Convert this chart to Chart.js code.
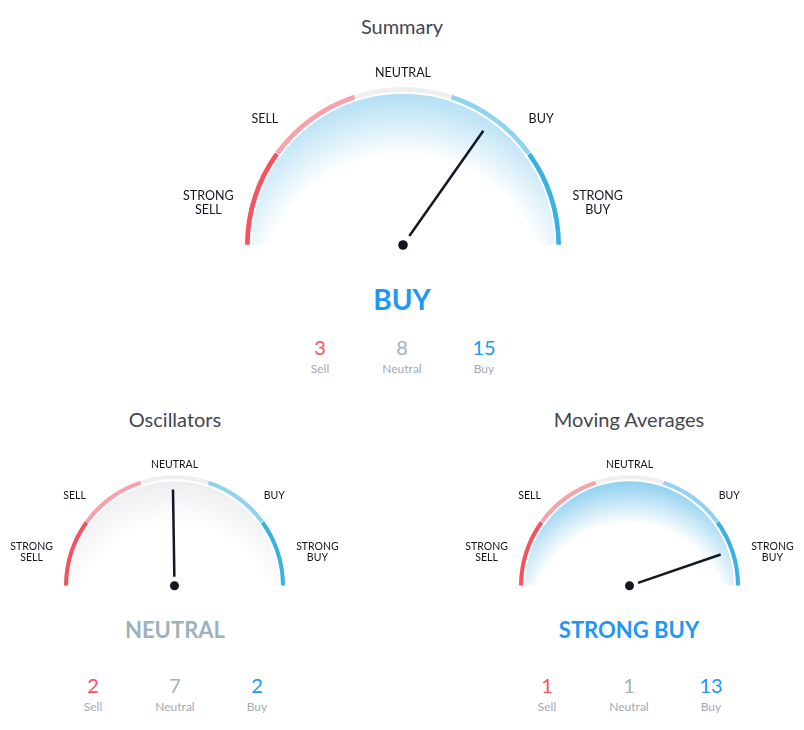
<!DOCTYPE html>
<html>
<head>
<meta charset="utf-8">
<title>Technical Analysis</title>
<script src="https://cdn.jsdelivr.net/npm/chart.js@4.4.1/dist/chart.umd.min.js"></script>
<style>
  html, body { margin: 0; padding: 0; background: #fff; }
  body { width: 804px; height: 730px; position: relative; overflow: hidden; font-family: 'Lato', 'Liberation Sans', sans-serif; }
  .txt { position: absolute; width: 240px; text-align: center; white-space: nowrap; }
  canvas { position: absolute; }
</style>
</head>
<body>
<script>
  // gauge data
  const gaugeTitles = ['Summary', 'Oscillators', 'Moving Averages'];
  const zoneLabels = ['STRONG SELL', 'SELL', 'NEUTRAL', 'BUY', 'STRONG BUY'];
  const zoneWeights = [1, 1, 1, 1, 1];
  const needleValues = [0.39, -0.01, 0.79]; // -1 = strong sell, 1 = strong buy
  const ratings = ['BUY', 'NEUTRAL', 'STRONG BUY'];
  const countLabels = ['Sell', 'Neutral', 'Buy'];
  const sellCounts = [3, 2, 1];
  const neutralCounts = [8, 7, 1];
  const buyCounts = [15, 2, 13];

  const zoneColors = ['#f7525f', '#f9a0ad', '#efeff1', '#8fd3f0', '#3ab1e3'];
  const ratingColors = { 'BUY': '#2196f3', 'STRONG BUY': '#2196f3', 'NEUTRAL': '#9db2bd', 'SELL': '#f7525f', 'STRONG SELL': '#f7525f' };
  const fillColors = { 'BUY': '#b3dff4', 'STRONG BUY': '#8fd0ef', 'NEUTRAL': '#eceef1' };
  const countColors = ['#f7525f', '#9db2bd', '#2196f3'];

  const bigLabelPos = [[-1.24, -0.265], [-0.88, -0.80], [0, -1.097], [0.88, -0.80], [1.24, -0.265]];
  const smallLabelPos = [[-1.305, -0.31], [-0.912, -0.823], [0, -1.107], [0.912, -0.823], [1.305, -0.31]];

  const layouts = [
    { left: 150, top: 55, w: 504, h: 200, pad: { left: 95, right: 93, top: 32, bottom: 9 }, cx: 402,
      titleY: 26, ratingY: 299, ratingSize: 28, countY: 347, countLblY: 369, big: true },
    { left: 0, top: 450, w: 350, h: 145, pad: { left: 64, right: 65, top: 25, bottom: 8 }, cx: 175,
      titleY: 419, ratingY: 630, ratingSize: 22, countY: 685, countLblY: 707, big: false },
    { left: 454, top: 450, w: 350, h: 145, pad: { left: 65, right: 64, top: 25, bottom: 8 }, cx: 629,
      titleY: 419, ratingY: 630, ratingSize: 22, countY: 685, countLblY: 707, big: false }
  ];

  /**
   * Place a centred line of text on the page
   */
  function addText(text, cx, cy, size, color, weight) {
    const el = document.createElement('div');
    el.className = 'txt';
    el.textContent = text;
    el.style.left = (cx - 120) + 'px';
    el.style.top = (cy - size) + 'px';
    el.style.height = (size * 2) + 'px';
    el.style.lineHeight = (size * 2) + 'px';
    el.style.fontSize = size + 'px';
    el.style.color = color;
    el.style.fontWeight = weight || 'normal';
    document.body.appendChild(el);
  }

  // fill, zone labels and needle
  const gaugePlugin = {
    id: 'gauge',
    beforeDatasetsDraw(chart, args, opts) {
      const arc = chart.getDatasetMeta(0).data[0];
      const { x, y, innerRadius } = arc;
      const r = innerRadius - 1;
      const ctx = chart.ctx;
      const g = ctx.createRadialGradient(x, y + r * 0.35, 0, x, y + r * 0.35, r * 1.35);
      g.addColorStop(0, '#ffffff');
      g.addColorStop(0.7, '#ffffff');
      g.addColorStop(1, opts.fill);
      ctx.save();
      ctx.beginPath();
      ctx.moveTo(x - r, y);
      ctx.arc(x, y, r, Math.PI, 2 * Math.PI);
      ctx.closePath();
      ctx.fillStyle = g;
      ctx.fill();
      ctx.restore();
    },
    afterDatasetsDraw(chart, args, opts) {
      const ctx = chart.ctx;
      const arc = chart.getDatasetMeta(0).data[0];
      const { x, y, outerRadius } = arc;
      const R = outerRadius;

      // zone labels
      ctx.save();
      ctx.fillStyle = '#131722';
      ctx.textAlign = 'center';
      ctx.textBaseline = 'middle';
      ctx.font = (opts.big ? 12.5 : 10.5) + "px 'Lato', 'Liberation Sans', sans-serif";
      const lh = opts.big ? 14 : 11;
      zoneLabels.forEach((lbl, i) => {
        const p = opts.labelPos[i];
        const lines = lbl.split(' ');
        const lx = x + p[0] * R;
        const ly = y + p[1] * R;
        lines.forEach((ln, j) => {
          ctx.fillText(ln, lx, ly + (j - (lines.length - 1) / 2) * lh);
        });
      });

      // needle from the hidden value ring
      const needleArc = chart.getDatasetMeta(1).data[0];
      const a = needleArc.endAngle;
      const start = opts.big ? 11 : 9;
      const len = R * (opts.big ? 0.89 : 0.88);
      ctx.strokeStyle = '#131722';
      ctx.lineWidth = 2.5;
      ctx.lineCap = 'butt';
      ctx.beginPath();
      ctx.moveTo(x + Math.cos(a) * start, y + Math.sin(a) * start);
      ctx.lineTo(x + Math.cos(a) * len, y + Math.sin(a) * len);
      ctx.stroke();
      ctx.fillStyle = '#131722';
      ctx.beginPath();
      ctx.arc(x, y, opts.big ? 4.8 : 4.5, 0, 2 * Math.PI);
      ctx.fill();
      ctx.restore();
    }
  };

  layouts.forEach((lay, i) => {
    const canvas = document.createElement('canvas');
    canvas.style.left = lay.left + 'px';
    canvas.style.top = lay.top + 'px';
    canvas.width = lay.w;
    canvas.height = lay.h;
    canvas.style.width = lay.w + 'px';
    canvas.style.height = lay.h + 'px';
    document.body.appendChild(canvas);

    const v = needleValues[i];
    new Chart(canvas, {
      type: 'doughnut',
      data: {
        labels: zoneLabels,
        datasets: [{
          data: zoneWeights,
          backgroundColor: zoneColors,
          borderWidth: 0,
          weight: 1
        }, {
          data: [v + 1, 1 - v],
          backgroundColor: ['rgba(0,0,0,0)', 'rgba(0,0,0,0)'],
          borderWidth: 0,
          weight: 0
        }]
      },
      options: {
        responsive: false,
        animation: false,
        events: [],
        rotation: -90,
        circumference: 180,
        cutout: lay.big ? '97%' : '96.3%',
        spacing: 2,
        layout: { padding: lay.pad },
        plugins: {
          legend: { display: false },
          tooltip: { enabled: false },
          gauge: {
            big: lay.big,
            fill: fillColors[ratings[i]],
            labelPos: lay.big ? bigLabelPos : smallLabelPos
          }
        }
      },
      plugins: [gaugePlugin]
    });

    // title, rating and counts
    addText(gaugeTitles[i], lay.cx, lay.titleY, 20, '#434651');
    addText(ratings[i], lay.cx, lay.ratingY, lay.ratingSize, ratingColors[ratings[i]], 'bold');
    const counts = [sellCounts[i], neutralCounts[i], buyCounts[i]];
    counts.forEach((c, j) => {
      const cx = lay.cx + (j - 1) * 82;
      addText(String(c), cx, lay.countY, 20, countColors[j]);
      addText(countLabels[j], cx, lay.countLblY, 12, '#a3a9b4');
    });
  });
</script>
</body>
</html>
